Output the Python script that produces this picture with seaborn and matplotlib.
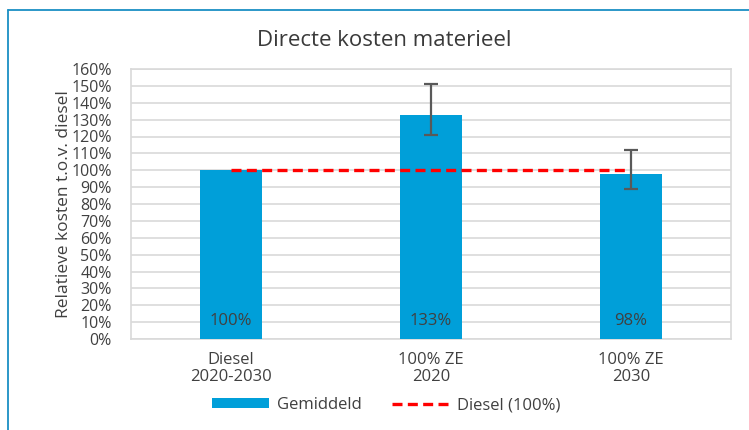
import numpy as np
import pandas as pd
import matplotlib
matplotlib.use("Agg")
import matplotlib.pyplot as plt
from matplotlib.lines import Line2D
from matplotlib.patches import Patch
import seaborn as sns

# --- DATA ---
categories = ["Diesel\n2020-2030", "100% ZE\n2020", "100% ZE\n2030"]
gemiddeld = [100, 133, 98]
err_low = [100, 121, 89]
err_high = [100, 151, 112]
diesel_ref = [100, 100, 100]
bar_labels = ["100%", "133%", "98%"]
yticks = list(range(0, 161, 10))

# --- STYLE ---
BLUE = "#009fd9"
TEXT = "#404040"
GRID = "#d9d9d9"

sns.set_style("white")
plt.rcParams["font.family"] = ["Open Sans", "DejaVu Sans"]

df = pd.DataFrame({"cat": categories, "val": gemiddeld})

fig = plt.figure(figsize=(7.49, 4.30), dpi=100)
ax = fig.add_axes([131 / 749, 1 - 339 / 430, 600 / 749, 270 / 430])

sns.barplot(data=df, x="cat", y="val", color=BLUE, width=0.31, ax=ax,
            saturation=1, zorder=3, errorbar=None, linewidth=0, edgecolor="none")

# foutbalken (alleen waar bereik bestaat)
x = np.arange(len(categories))
vals = np.array(gemiddeld)
lo = vals - np.array(err_low)
hi = np.array(err_high) - vals
mask = (lo > 0) | (hi > 0)
ax.errorbar(x[mask], vals[mask], yerr=[lo[mask], hi[mask]], fmt="none",
            ecolor="#595959", elinewidth=1.6, capsize=5, capthick=1.6, zorder=5)

# referentielijn diesel
ax.plot(x, diesel_ref, color="#ff0000", linestyle=(0, (3, 1.6)), linewidth=2.4, zorder=4)

# labels in de balken
for xi, lab in zip(x, bar_labels):
    ax.text(xi, 10.5, lab, ha="center", va="center", fontsize=12, color=TEXT, zorder=6)

ax.set_xlim(-0.5, 2.5)
ax.set_ylim(0, 160)
ax.set_yticks(yticks)
ax.set_yticklabels([f"{t}%" for t in yticks], fontsize=11.5, color=TEXT)
ax.tick_params(axis="y", length=0, pad=14)
ax.tick_params(axis="x", length=0, pad=9, labelsize=12, labelcolor=TEXT)
for lab in ax.get_xticklabels():
    lab.set_linespacing(1.15)
ax.set_xlabel("")
ax.set_ylabel("Relatieve kosten t.o.v. diesel", fontsize=12.5, color=TEXT, labelpad=-1)
ax.grid(axis="y", color=GRID, linewidth=1.2, zorder=0)
ax.set_axisbelow(True)
for s in ax.spines.values():
    s.set_color(GRID)
    s.set_linewidth(1.2)

fig.text(384 / 749, 1 - 41 / 430, "Directe kosten materieel", ha="center", va="center",
         fontsize=16, color="#3a3a3a")

handles = [Patch(facecolor=BLUE, edgecolor="none"),
           Line2D([0], [0], color="#ff0000", linestyle=(0, (3, 1.6)), linewidth=2.4)]
fig.legend(handles, ["Gemiddeld", "Diesel (100%)"], loc="center", ncol=2,
           bbox_to_anchor=(386 / 749, 1 - 405 / 430), frameon=False, fontsize=12,
           labelcolor=TEXT, handlelength=3.4, handleheight=0.55, columnspacing=1.8,
           handletextpad=0.5)

# kader van de dia
fig.add_artist(Line2D([8 / 749, 1], [1 - 10 / 430, 1 - 10 / 430], color="#1a8fc4",
                      linewidth=1.3, transform=fig.transFigure))
fig.add_artist(Line2D([8 / 749, 8 / 749], [1 - 10 / 430, 0], color="#1a8fc4",
                      linewidth=1.3, transform=fig.transFigure))

fig.savefig("out.png", dpi=100)
